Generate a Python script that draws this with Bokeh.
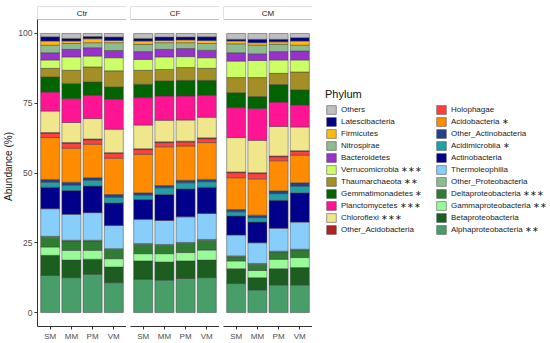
from bokeh.plotting import figure
from bokeh.models import (ColumnDataSource, FactorRange, Range1d, FixedTicker,
                          BoxAnnotation, Label, Legend, LegendItem)
from bokeh.layouts import row
from bokeh.embed import file_html
from bokeh.resources import INLINE

FONT = "Liberation Sans"

treatments = ["Ctr", "CF", "CM"]
samples = ["SM", "MM", "PM", "VM"]

# values per phylum, order: Ctr SM MM PM VM | CF SM MM PM VM | CM SM MM PM VM
alphaproteobacteria = [13.3, 12.5, 13.7, 10.7, 11.9, 11.6, 12.2, 12.5, 10.4, 8.1, 9.9, 9.9]
betaproteobacteria = [7.2, 6.3, 5.4, 5.6, 6.6, 6.5, 6.3, 6.3, 5.3, 4.4, 5.8, 6.2]
gammaproteobacteria = [3.0, 3.5, 3.2, 3.0, 2.6, 3.0, 3.0, 3.6, 2.8, 2.6, 3.4, 3.6]
deltaproteobacteria = [3.5, 3.3, 3.3, 3.3, 3.3, 3.0, 3.3, 3.5, 1.5, 2.2, 2.6, 2.7]
other_proteobacteria = [0.3, 0.3, 0.3, 0.3, 0.3, 0.3, 0.3, 0.3, 0.3, 0.3, 0.3, 0.3]
thermoleophilia = [9.9, 9.3, 9.9, 8.3, 8.7, 8.6, 9.2, 9.3, 7.5, 7.4, 8.2, 9.7]
actinobacteria = [7.7, 8.5, 9.5, 8.1, 7.1, 9.3, 10.0, 9.4, 6.8, 7.4, 10.0, 10.5]
acidimicrobiia = [1.8, 1.9, 2.1, 2.0, 1.6, 2.4, 2.2, 2.0, 1.5, 1.6, 2.4, 2.4]
other_actinobacteria = [1.0, 1.1, 0.9, 1.0, 0.8, 0.8, 0.9, 0.8, 0.8, 0.9, 1.0, 1.2]
acidobacteria = [15.0, 12.2, 12.0, 13.0, 13.8, 13.9, 12.3, 13.2, 11.4, 13.0, 10.8, 9.9]
holophagae = [1.5, 1.7, 1.6, 1.7, 1.7, 1.5, 1.4, 1.4, 1.8, 1.9, 1.4, 1.3]
other_acidobacteria = [0.3, 0.3, 0.3, 0.3, 0.3, 0.3, 0.3, 0.3, 0.3, 0.3, 0.3, 0.3]
chloroflexi = [7.7, 7.2, 7.3, 8.4, 8.5, 7.7, 7.6, 7.4, 12.3, 11.6, 10.6, 8.5]
planctomycetes = [6.8, 8.5, 8.3, 10.7, 9.8, 8.7, 8.6, 7.8, 10.7, 11.4, 8.7, 7.9]
gemmatimonadetes = [5.4, 5.5, 4.8, 4.4, 4.8, 5.4, 5.6, 5.4, 5.4, 4.3, 6.3, 5.4]
thaumarchaeota = [3.1, 4.7, 5.4, 5.8, 5.0, 4.1, 4.6, 4.3, 5.4, 6.8, 4.0, 6.4]
verrucomicrobia = [3.0, 4.8, 3.9, 4.7, 3.9, 4.5, 3.9, 3.8, 5.9, 6.1, 4.8, 4.3]
bacteroidetes = [2.6, 2.7, 3.0, 2.6, 2.8, 2.7, 2.9, 2.7, 3.0, 2.4, 3.0, 3.2]
nitrospirae = [2.7, 2.1, 1.8, 2.8, 2.6, 2.4, 2.1, 2.4, 3.2, 3.1, 2.6, 2.1]
firmicutes = [1.5, 0.9, 1.4, 0.8, 1.2, 0.8, 1.0, 1.1, 1.0, 0.9, 0.9, 1.5]
latescibacteria = [1.5, 0.9, 0.8, 1.2, 0.9, 1.2, 1.0, 1.3, 0.6, 1.2, 0.9, 1.2]
others = [1.2, 1.8, 1.1, 1.3, 1.8, 1.3, 1.3, 1.2, 2.1, 2.1, 2.1, 1.5]

# stacking order, bottom to top
phyla = ["Alphaproteobacteria", "Betaproteobacteria", "Gammaproteobacteria",
         "Deltaproteobacteria", "Other_Proteobacteria", "Thermoleophilia",
         "Actinobacteria", "Acidimicrobiia", "Other_Actinobacteria", "Acidobacteria",
         "Holophagae", "Other_Acidobacteria", "Chloroflexi", "Planctomycetes",
         "Gemmatimonadetes", "Thaumarchaeota", "Verrucomicrobia", "Bacteroidetes",
         "Nitrospirae", "Firmicutes", "Latescibacteria", "Others"]
labels = ["Alphaproteobacteria \u2217\u2217", "Betaproteobacteria", "Gammaproteobacteria \u2217\u2217",
          "Deltaproteobacteria \u2217\u2217\u2217", "Other_Proteobacteria", "Thermoleophilia",
          "Actinobacteria", "Acidimicrobiia \u2217", "Other_Actinobacteria", "Acidobacteria \u2217",
          "Holophagae", "Other_Acidobacteria", "Chloroflexi \u2217\u2217\u2217", "Planctomycetes \u2217\u2217\u2217",
          "Gemmatimonadetes \u2217", "Thaumarchaeota \u2217\u2217", "Verrucomicrobia \u2217\u2217\u2217", "Bacteroidetes",
          "Nitrospirae", "Firmicutes", "Latescibacteria", "Others"]
colors = ["#479E68", "#1B5E20", "#98FB98", "#2E7D32", "#8FBC8F", "#87CEFA",
          "#00008B", "#20A0A6", "#27408B", "#FF8C00", "#FF4040", "#B22222",
          "#F0E68C", "#FF1493", "#006400", "#A38F25", "#CCFF66", "#9932CC",
          "#8FBC8F", "#FFB90F", "#00008B", "#BEBEBE"]
series = [alphaproteobacteria, betaproteobacteria, gammaproteobacteria, deltaproteobacteria,
          other_proteobacteria, thermoleophilia, actinobacteria, acidimicrobiia,
          other_actinobacteria, acidobacteria, holophagae, other_acidobacteria, chloroflexi,
          planctomycetes, gemmatimonadetes, thaumarchaeota, verrucomicrobia, bacteroidetes,
          nitrospirae, firmicutes, latescibacteria, others]

FH = 320
FW = 89
TOP = 6
STRIP_TOP = 109.66
OUTLINE = "#404040"

figs = []
for t, trt in enumerate(treatments):
    data = {"sample": samples}
    for name, vals in zip(phyla, series):
        data[name] = vals[4 * t:4 * t + 4]
    src = ColumnDataSource(data)
    first = (t == 0)
    p = figure(x_range=FactorRange(*samples, range_padding=0.05),
               y_range=Range1d(-5, STRIP_TOP),
               frame_width=FW, frame_height=FH,
               toolbar_location=None, output_backend="svg",
               y_axis_location="left" if first else None,
               min_border_left=(35 if first else 4), min_border_right=0,
               min_border_top=TOP, min_border_bottom=0)
    p.vbar_stack(phyla, x="sample", width=0.9, fill_color=colors,
                 line_color=OUTLINE, line_width=0.5, source=src)

    strip = BoxAnnotation(bottom=105, top=STRIP_TOP, fill_color="white", fill_alpha=1,
                          line_color="#333333", line_width=1)
    p.add_layout(strip)
    p.add_layout(Label(x=FW / 2, x_units="screen", y=(105 + STRIP_TOP) / 2, text=trt,
                       text_align="center", text_baseline="middle",
                       text_font_size="8px", text_font=FONT, text_color="#1A1A1A"))

    p.xgrid.visible = False
    p.ygrid.visible = False
    p.outline_line_color = None
    p.xaxis.axis_line_color = "#333333"
    p.xaxis.major_tick_line_color = "#333333"
    p.xaxis.major_tick_out = 3
    p.xaxis.major_tick_in = 0
    p.xaxis.major_label_standoff = 2
    p.xaxis.major_label_text_font = FONT
    p.xaxis.major_label_text_font_size = "8px"
    p.xaxis.major_label_text_color = "#4D4D4D"
    if first:
        p.yaxis.ticker = FixedTicker(ticks=[0, 25, 50, 75, 100])
        p.yaxis.bounds = (-5, 105)
        p.yaxis.axis_label = "Abundance (%)"
        p.yaxis.axis_label_text_font = FONT
        p.yaxis.axis_label_text_font_size = "10px"
        p.yaxis.axis_label_text_font_style = "normal"
        p.yaxis.axis_label_text_color = "#1A1A1A"
        p.yaxis.axis_label_standoff = 1
        p.yaxis.axis_line_color = "#333333"
        p.yaxis.major_tick_line_color = "#333333"
        p.yaxis.minor_tick_line_color = None
        p.yaxis.major_tick_out = 3
        p.yaxis.major_tick_in = 0
        p.yaxis.major_label_standoff = 2
        p.yaxis.major_label_text_font = FONT
        p.yaxis.major_label_text_font_size = "8.5px"
        p.yaxis.major_label_text_color = "#4D4D4D"
    figs.append(p)

# legend panel
LW = 240
pl = figure(x_range=Range1d(0, 1), y_range=Range1d(0, 1), frame_width=LW, frame_height=FH,
            toolbar_location=None, output_backend="svg",
            x_axis_location=None, y_axis_location=None,
            min_border_left=0, min_border_right=0, min_border_top=TOP, min_border_bottom=0)
pl.outline_line_color = None
pl.xgrid.visible = False
pl.ygrid.visible = False

items = []
for name, lab, c in zip(phyla, labels, colors):
    # key swatch renderer, kept outside the visible range of this legend-only panel
    r = pl.rect(x=[-1], y=[-1], width=0.1, height=0.1, fill_color=c,
                line_color=OUTLINE, line_width=0.5)
    items.append(LegendItem(label=lab, renderers=[r]))
items = items[::-1]


def make_legend(its, title, x, y):
    lg = Legend(items=its, title=title, location=(x, y))
    lg.title_text_font = FONT
    lg.title_text_font_size = "11px"
    lg.title_text_font_style = "normal"
    lg.title_text_color = "#111111"
    lg.title_standoff = 4
    lg.label_text_font = FONT
    lg.label_text_font_size = "8px"
    lg.label_text_color = "#1A1A1A"
    lg.glyph_width = 12
    lg.glyph_height = 11
    lg.label_height = 11
    lg.spacing = 1
    lg.label_standoff = 4
    lg.padding = 0
    lg.margin = 0
    lg.border_line_color = None
    lg.background_fill_alpha = 0
    return lg


LEG_Y = 91
pl.add_layout(make_legend(items[:11], "Phylum", 13, LEG_Y))
pl.add_layout(make_legend(items[11:], " ", 123, LEG_Y))

layout = row(*figs, pl, spacing=0)
open("out.html", "w").write(file_html(layout, INLINE))
